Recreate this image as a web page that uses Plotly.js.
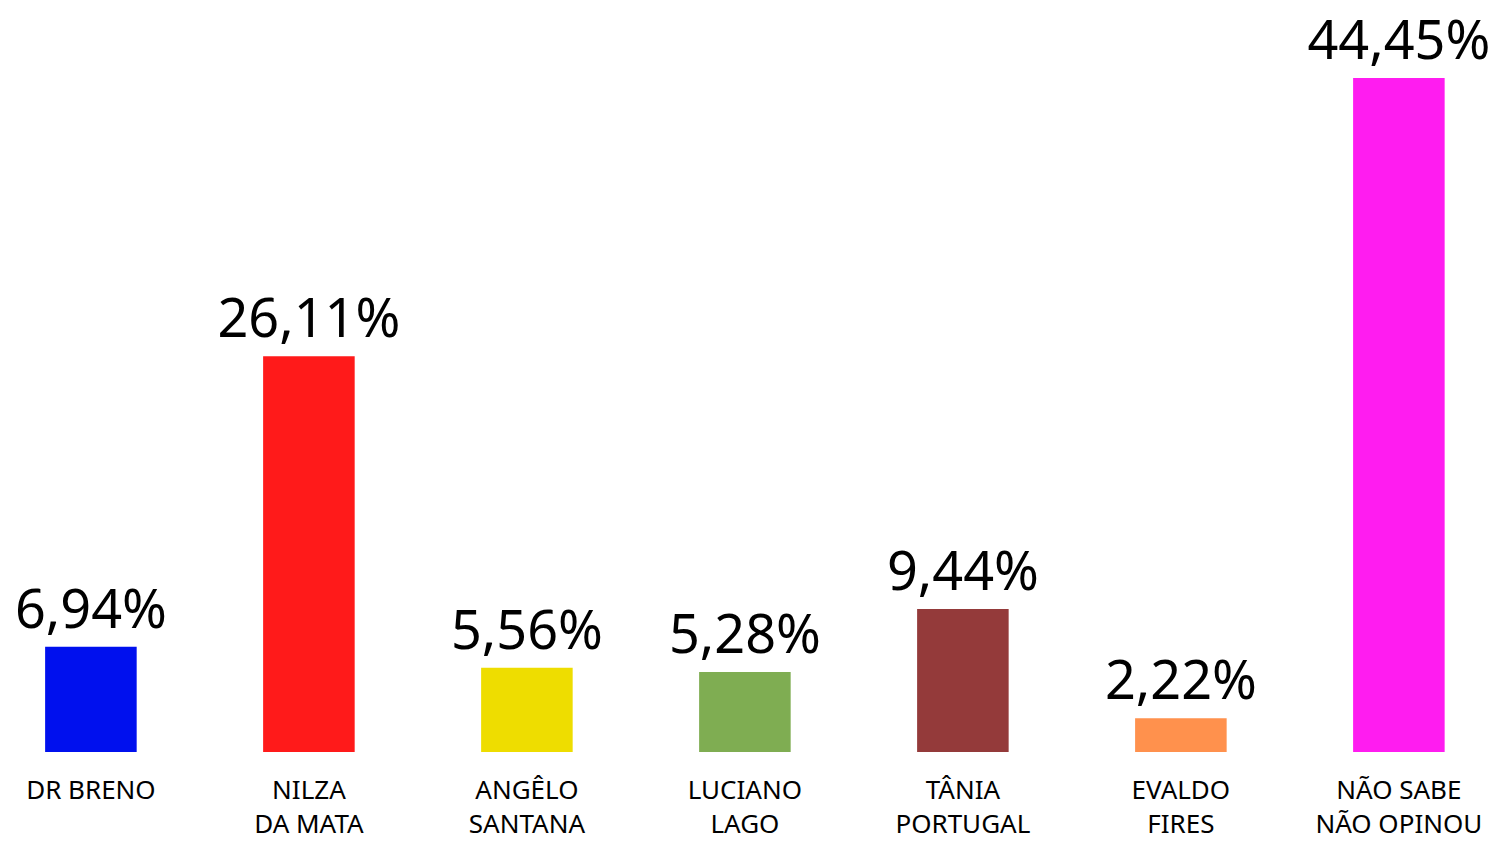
<!DOCTYPE html>
<html>
<head>
<meta charset="utf-8">
<script src="https://cdn.plot.ly/plotly-3.0.1.min.js"></script>
<style>html,body{margin:0;padding:0;background:#fff;}#chart{width:1507px;height:843px;}</style>
</head>
<body>
<div id="chart"></div>
<script>
const categories = ["DR BRENO", "NILZA<br>DA MATA", "ANGÊLO<br>SANTANA", "LUCIANO<br>LAGO", "TÂNIA<br>PORTUGAL", "EVALDO<br>FIRES", "NÃO SABE<br>NÃO OPINOU"];
const values = [6.94, 26.11, 5.56, 5.28, 9.44, 2.22, 44.45];
const valueLabels = ["6,94%", "26,11%", "5,56%", "5,28%", "9,44%", "2,22%", "44,45%"];
const colors = ["#0010EE", "#FF1A1A", "#EEDD00", "#7FAD52", "#943A3A", "#FF914D", "#FF1CF0"];

const idx = categories.map((c, i) => i);

const trace = {
  type: "bar",
  x: idx,
  y: values,
  text: valueLabels,
  textposition: "outside",
  constraintext: "none",
  cliponaxis: false,
  textfont: {family: "Noto Sans, sans-serif", size: 54, color: "#000"},
  marker: {color: colors, line: {width: 0}},
  width: 0.42,
  hoverinfo: "none"
};

const layout = {
  width: 1507,
  height: 843,
  margin: {l: 0, r: 0, t: 0, b: 91},
  paper_bgcolor: "#fff",
  plot_bgcolor: "#fff",
  showlegend: false,
  xaxis: {
    range: [-0.417, 6.496],
    tickmode: "array",
    tickvals: idx,
    ticktext: categories,
    showgrid: false,
    zeroline: false,
    showline: false,
    ticks: "",
    ticklabelstandoff: 20,
    tickfont: {family: "Noto Sans, sans-serif", size: 26, color: "#000"}
  },
  yaxis: {
    range: [0, 49.6],
    visible: false,
    showgrid: false,
    zeroline: false
  }
};

Plotly.newPlot("chart", [trace], layout, {displayModeBar: false, staticPlot: true});
</script>
</body>
</html>
